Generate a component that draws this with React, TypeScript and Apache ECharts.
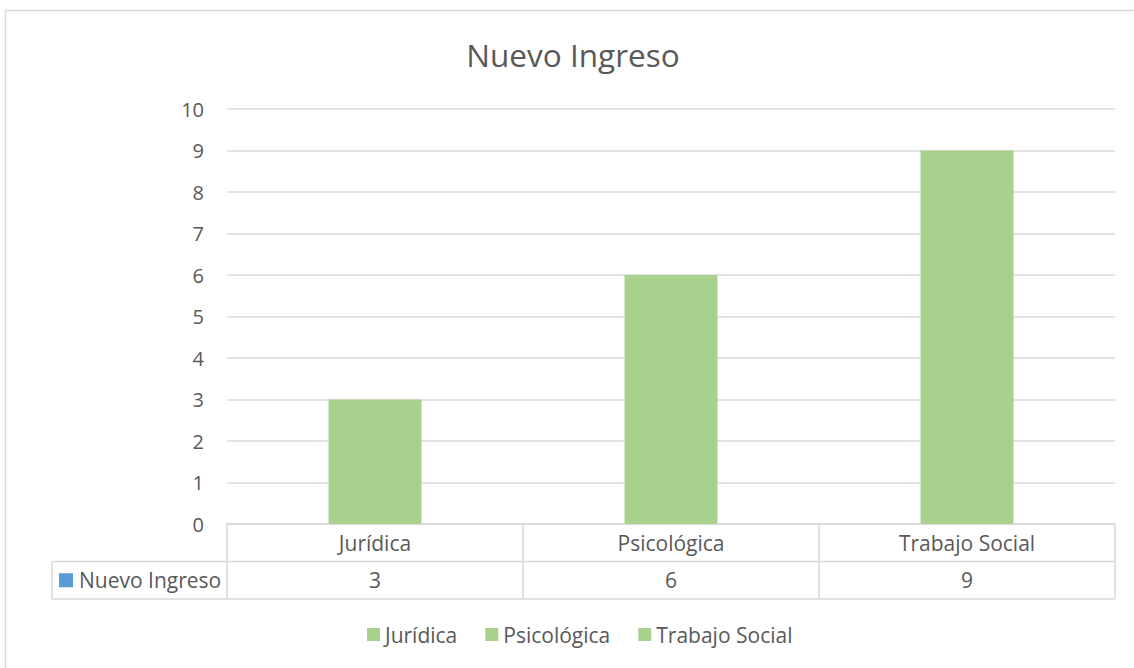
import React, { useEffect, useRef } from "react";
import * as echarts from "echarts";

const categories = ["Jurídica", "Psicológica", "Trabajo Social"];
const values = [3, 6, 9];
const seriesName = "Nuevo Ingreso";
const chartTitle = "Nuevo Ingreso";
const yMin = 0;
const yMax = 10;
const yInterval = 1;

const FONT = "'Open Sans', sans-serif";
const TEXT = "#595959";
const LINE = "#D9D9D9";
const GREEN = "#A9D18E";
const BLUE = "#5B9BD5";
const FS = 21;

export default function App() {
  const ref = useRef<HTMLDivElement>(null);
  useEffect(() => {
    if (!ref.current) return;
    const chart = echarts.init(ref.current, null, { renderer: "svg" });
    chart.setOption({
      animation: false,
      backgroundColor: "#fff",
      textStyle: { fontFamily: FONT },
      title: {
        text: chartTitle,
        left: 568,
        textAlign: "center",
        top: 33,
        textStyle: { fontFamily: FONT, fontSize: 31.5, fontWeight: "normal", color: TEXT },
      },
      legend: {
        bottom: 18,
        left: 362,
        icon: "rect",
        itemWidth: 13,
        itemHeight: 13,
        itemGap: 28,
        textStyle: { fontFamily: FONT, fontSize: FS, color: TEXT },
        data: categories,
      },
      grid: { left: 227, right: 19, top: 109, bottom: 144, containLabel: false },
      xAxis: {
        type: "category",
        data: categories,
        axisLine: { show: true, lineStyle: { color: LINE, width: 1.5 } },
        axisTick: { show: false },
        axisLabel: { show: false },
      },
      yAxis: {
        type: "value",
        min: yMin,
        max: yMax,
        interval: yInterval,
        axisLine: { show: false },
        axisTick: { show: false },
        axisLabel: { fontFamily: FONT, fontSize: 20, color: TEXT, margin: 23 },
        splitLine: { lineStyle: { color: LINE, width: 1.5 } },
      },
      series: categories.map((c, i) => ({
        name: c,
        type: "bar",
        stack: "all",
        barWidth: "31.4%",
        itemStyle: { color: GREEN },
        data: values.map((v, j) => (j === i ? v : "-")),
      })),
    });

    const c0 = chart.convertToPixel({ xAxisIndex: 0 }, categories[0]) as number;
    const c1 = chart.convertToPixel({ xAxisIndex: 0 }, categories[1]) as number;
    const band = c1 - c0;
    const left = c0 - band / 2;
    const right = left + band * categories.length;
    const yBase = chart.convertToPixel({ yAxisIndex: 0 }, 0) as number;
    const rowH = 37.5;
    const labelLeft = 52;
    const ls = { stroke: LINE, lineWidth: 1.5 };
    const g: any[] = [
      {
        type: "rect",
        shape: { x: 5.5, y: 10.5, width: 1150, height: 700 },
        style: { fill: "none", stroke: LINE, lineWidth: 1.5 },
        silent: true,
      },
      { type: "line", shape: { x1: labelLeft, y1: yBase + rowH, x2: right, y2: yBase + rowH }, style: ls },
      { type: "line", shape: { x1: labelLeft, y1: yBase + 2 * rowH, x2: right, y2: yBase + 2 * rowH }, style: ls },
      { type: "line", shape: { x1: labelLeft, y1: yBase + rowH, x2: labelLeft, y2: yBase + 2 * rowH }, style: ls },
    ];
    for (let k = 0; k <= categories.length; k++) {
      const x = left + k * band;
      g.push({ type: "line", shape: { x1: x, y1: yBase, x2: x, y2: yBase + 2 * rowH }, style: ls });
    }
    categories.forEach((c, i) => {
      const cx = left + (i + 0.5) * band;
      g.push({
        type: "text",
        x: cx,
        y: yBase + rowH / 2,
        style: { text: c, fontFamily: FONT, fontSize: FS, fill: TEXT, align: "center", verticalAlign: "middle" },
      });
      g.push({
        type: "text",
        x: cx,
        y: yBase + rowH * 1.5,
        style: { text: String(values[i]), fontFamily: FONT, fontSize: FS, fill: TEXT, align: "center", verticalAlign: "middle" },
      });
    });
    g.push({
      type: "rect",
      shape: { x: 59, y: yBase + rowH * 1.5 - 7, width: 14, height: 14 },
      style: { fill: BLUE },
    });
    g.push({
      type: "text",
      x: 79,
      y: yBase + rowH * 1.5,
      style: { text: seriesName, fontFamily: FONT, fontSize: FS, fill: TEXT, align: "left", verticalAlign: "middle" },
    });
    chart.setOption({ graphic: g });

    return () => chart.dispose();
  }, []);
  return (
    <div
      ref={ref}
      style={{ position: "fixed", left: 0, top: 0, width: 1134, height: 668 }}
    />
  );
}
